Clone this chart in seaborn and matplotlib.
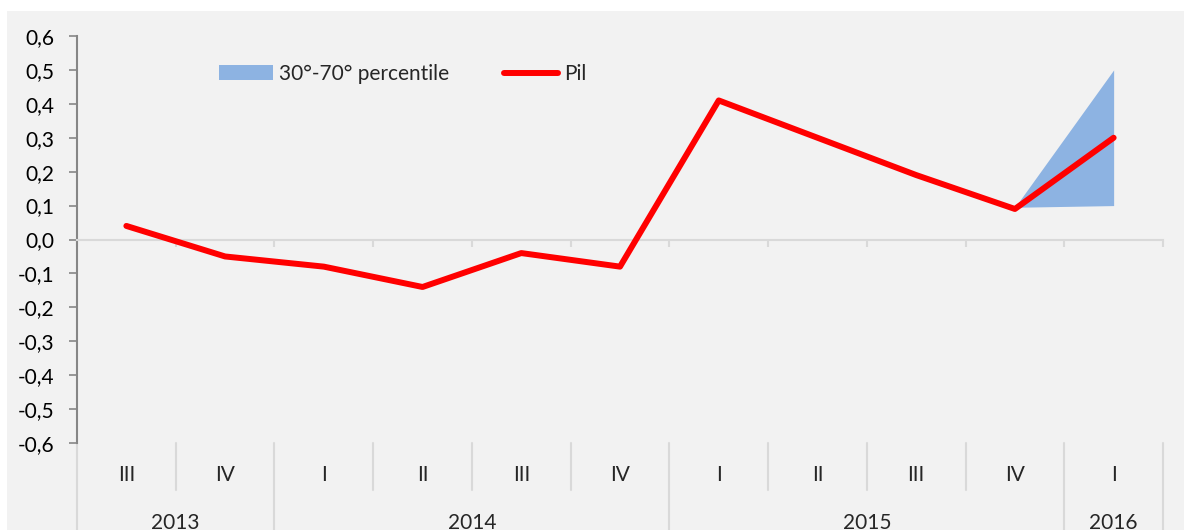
import numpy as np
import pandas as pd
import seaborn as sns
import matplotlib.pyplot as plt
from matplotlib.patches import Patch, Rectangle
from matplotlib.lines import Line2D

quarters = ['III', 'IV', 'I', 'II', 'III', 'IV', 'I', 'II', 'III', 'IV', 'I']
years = ['2013', '2014', '2015', '2016']
year_len = [2, 4, 4, 1]
pil = [0.04, -0.05, -0.08, -0.14, -0.04, -0.08, 0.41, 0.30, 0.19, 0.09, 0.30]
band_idx = [9, 10]
band_low = [0.095, 0.10]
band_high = [0.095, 0.50]

sns.set_theme(style="ticks")
plt.rcParams['font.family'] = ['Lato', 'DejaVu Sans']
fs = 15

bg = '#f2f2f2'
fig = plt.figure(figsize=(11.84, 5.30), dpi=100, facecolor='white')
fig.patches.append(Rectangle((7/1184, 0), 1, 1 - 11/530, transform=fig.transFigure,
                             facecolor=bg, edgecolor='none', zorder=-10))
ax = fig.add_axes([77/1184, 1 - 443/530, (1163 - 77)/1184, (443 - 36)/530])
ax.set_facecolor(bg)

df = pd.DataFrame({'x': np.arange(len(pil)), 'Pil': pil})
ax.fill_between(band_idx, band_low, band_high, color='#8db3e2', lw=0, zorder=2)
sns.lineplot(data=df, x='x', y='Pil', ax=ax, color='red', lw=4.3, zorder=3,
             solid_capstyle='round', solid_joinstyle='round')

ax.set_xlim(-0.5, len(pil) - 0.5)
ax.set_ylim(-0.6, 0.6)
yt = np.round(np.arange(-0.6, 0.61, 0.1), 1)
ax.set_yticks(yt)
ax.set_yticklabels([f'{abs(v) if v == 0 else v:.1f}'.replace('.', ',') for v in yt], fontsize=fs)
ax.tick_params(axis='y', direction='out', length=6, width=1.2, color='#868686', pad=10, labelcolor='black')

for s in ['top', 'right']:
    ax.spines[s].set_visible(False)
ax.spines['left'].set_color('#868686')
ax.spines['left'].set_linewidth(1.5)
ax.spines['bottom'].set_position(('data', 0))
ax.spines['bottom'].set_color('#d9d9d9')
ax.spines['bottom'].set_linewidth(1.5)
ax.set_xticks(np.arange(-0.5, len(pil), 1))
ax.set_xticklabels([])
ax.tick_params(axis='x', direction='out', length=5, width=1.5, color='#d9d9d9')
ax.set_xlabel('')
ax.set_ylabel('')

# two-level category axis below the plot
tr = ax.get_xaxis_transform()
for i, q in enumerate(quarters):
    ax.text(i, -0.079, q, transform=tr, ha='center', va='center', fontsize=fs)
bounds = np.cumsum([0] + year_len) - 0.5
for b in np.arange(-0.5, len(pil), 1):
    long = b in bounds
    ax.plot([b, b], [0, -0.22 if long else -0.115], transform=tr, clip_on=False,
            color='#d9d9d9', lw=1.5)
for y, a, b in zip(years, bounds[:-1], bounds[1:]):
    ax.text((a + b) / 2, -0.197, y, transform=tr, ha='center', va='center', fontsize=fs)

handles = [Patch(facecolor='#8db3e2', edgecolor='none'),
           Line2D([], [], color='red', lw=4.3, solid_capstyle='round')]
ax.legend(handles, ['30°-70° percentile', 'Pil'], ncol=2, frameon=False,
          loc='center', bbox_to_anchor=(0.3, 0.907), fontsize=fs,
          handlelength=2.6, handletextpad=0.3, columnspacing=2.6)

fig.savefig('out.png', dpi=100, facecolor='white')
